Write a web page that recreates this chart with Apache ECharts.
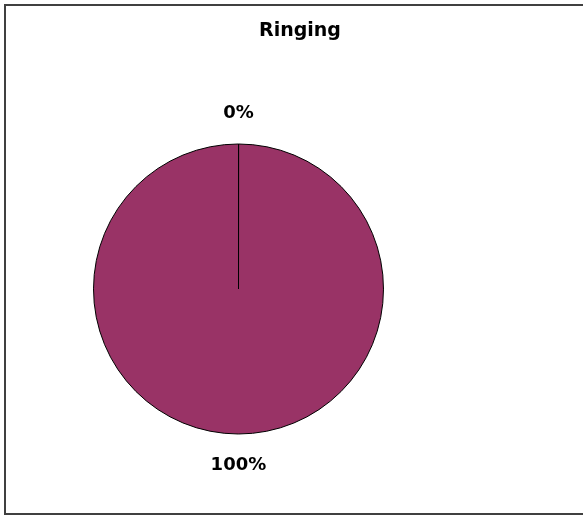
<!DOCTYPE html>
<html>
<head>
<meta charset="utf-8">
<script src="https://cdn.jsdelivr.net/npm/echarts@6/dist/echarts.min.js"></script>
<style>
html,body{margin:0;padding:0;background:#fff;}
#c{width:583px;height:516px;}
</style>
</head>
<body>
<div id="c"></div>
<script>
var title = 'Ringing';
var categories = ['No', 'Yes'];
var values = [0, 100];
var colors = ['#993366', '#993366'];

var chart = echarts.init(document.getElementById('c'), null, {renderer: 'canvas'});
chart.setOption({
  animation: false,
  backgroundColor: '#ffffff',
  title: {
    text: title,
    left: 295,
    top: 17,
    textAlign: 'center',
    textStyle: {fontFamily: 'DejaVu Sans', fontWeight: 'bold', fontSize: 19, color: '#000'}
  },
  graphic: [{
    type: 'rect',
    shape: {x: 5, y: 5, width: 620, height: 509},
    style: {fill: 'none', stroke: '#404040', lineWidth: 2},
    silent: true
  }],
  series: [{
    type: 'pie',
    center: [238.5, 289],
    radius: 145,
    startAngle: 90,
    clockwise: true,
    minAngle: 0.05,
    avoidLabelOverlap: false,
    itemStyle: {borderColor: '#000', borderWidth: 1},
    label: {
      show: true,
      position: 'outside',
      formatter: '{d}%',
      fontFamily: 'DejaVu Sans',
      fontWeight: 'bold',
      fontSize: 18,
      color: '#000',
      distanceToLabelLine: 0
    },
    labelLine: {show: false, length: 31, length2: 0},
    labelLayout: {align: 'center', verticalAlign: 'middle'},
    data: categories.map(function (c, i) {
      return {name: c, value: values[i], itemStyle: {color: colors[i]}};
    })
  }]
});
</script>
</body>
</html>
